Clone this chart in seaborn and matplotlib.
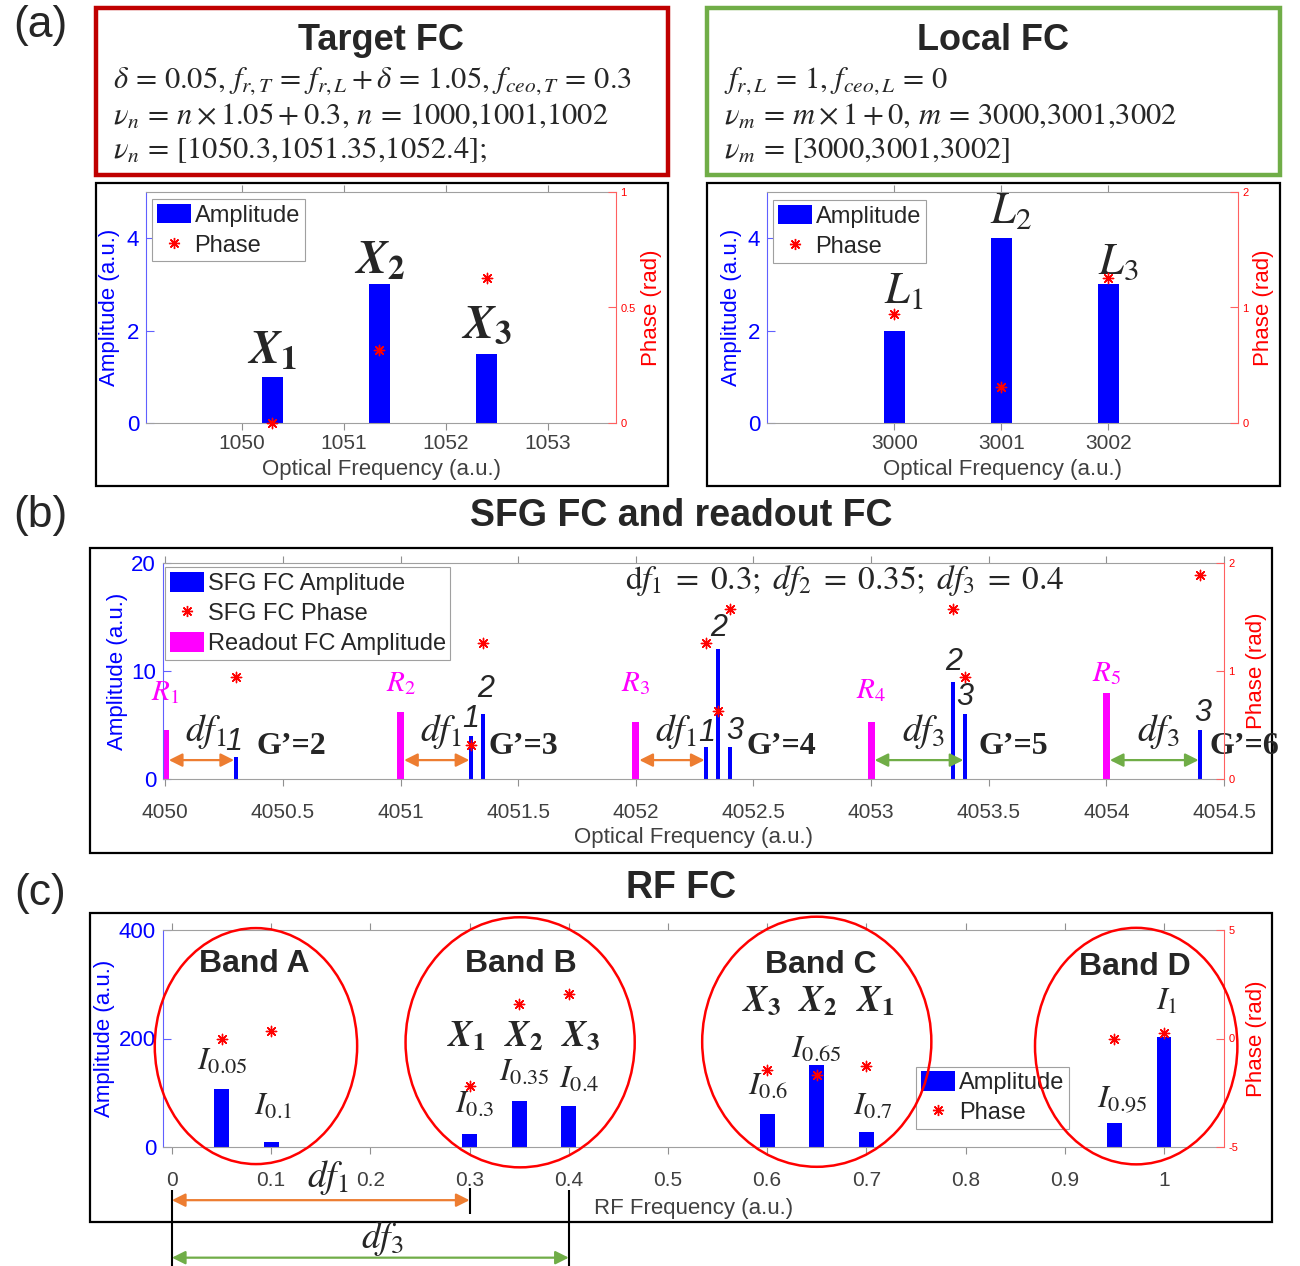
import numpy as np
import pandas as pd
import matplotlib
matplotlib.use("Agg")
import matplotlib.pyplot as plt
import seaborn as sns
from matplotlib.patches import Rectangle, Ellipse, Patch
from matplotlib.lines import Line2D

# ------------------------- data -------------------------
# (a) Target FC
target_freq = [1050.3, 1051.35, 1052.4]
target_amp = [1.0, 3.0, 1.5]
target_phase = [0.0, 0.314, 0.628]
target_labels = [r"$\mathbfit{X}_{\mathbf{1}}$", r"$\mathbfit{X}_{\mathbf{2}}$", r"$\mathbfit{X}_{\mathbf{3}}$"]
# (a) Local FC
local_freq = [3000, 3001, 3002]
local_amp = [2.0, 4.0, 3.0]
local_phase = [0.942, 0.314, 1.257]
local_labels = [r"$L_1$", r"$L_2$", r"$L_3$"]
# (b) SFG FC and readout FC
sfg_freq = [4050.3, 4051.3, 4051.35, 4052.3, 4052.35, 4052.4, 4053.35, 4053.4, 4054.4]
sfg_amp = [2, 4, 6, 3, 12, 3, 9, 6, 4.5]
sfg_phase = [0.942, 0.314, 1.257, 1.257, 0.628, 1.571, 1.571, 0.942, 1.885]
sfg_tags = ["1", "1", "2", "1", "2", "3", "2", "3", "3"]
readout_freq = [4050, 4051, 4052, 4053, 4054]
readout_amp = [4.5, 6.2, 5.3, 5.3, 8.0]
readout_labels = [r"$R_1$", r"$R_2$", r"$R_3$", r"$R_4$", r"$R_5$"]
group_labels = ["G’=2", "G’=3", "G’=4", "G’=5", "G’=6"]
df_values = [0.3, 0.35, 0.4]
# (c) RF FC
rf_freq = [0.05, 0.1, 0.3, 0.35, 0.4, 0.6, 0.65, 0.7, 0.95, 1.0]
rf_amp = [107, 9, 24, 84, 75, 60, 151, 28, 45, 202]
rf_phase = [0.0, 0.35, -2.2, 1.6, 2.05, -1.45, -1.7, -1.25, 0.0, 0.25]
rf_labels = [r"$I_{0.05}$", r"$I_{0.1}$", r"$I_{0.3}$", r"$I_{0.35}$", r"$I_{0.4}$",
             r"$I_{0.6}$", r"$I_{0.65}$", r"$I_{0.7}$", r"$I_{0.95}$", r"$I_1$"]
band_names = ["Band A", "Band B", "Band C", "Band D"]

# ------------------------- style -------------------------
sns.set_theme(style="white")
plt.rcParams["font.family"] = ["Liberation Sans", "DejaVu Sans"]
plt.rcParams["mathtext.fontset"] = "stix"
plt.rcParams["axes.unicode_minus"] = False

BLUE, RED, MAG, GRAY = "#0000FF", "#FF0000", "#FF00FF", "#404040"
ORANGE, GREEN = "#ED7D31", "#70AD47"
STAR = (8, 2, 0)

W, H = 1300, 1266
fig = plt.figure(figsize=(W / 100, H / 100), dpi=100)
fig.patch.set_facecolor("white")


def rect(l, t, r, b):
    return [l / W, 1 - b / H, (r - l) / W, (b - t) / H]


def frame(l, t, r, b, color="black", lw=1.6):
    fig.add_artist(Rectangle((l / W, 1 - b / H), (r - l) / W, (b - t) / H,
                             transform=fig.transFigure, fill=False,
                             edgecolor=color, linewidth=lw, zorder=0))


def ftext(x, y, s, **kw):
    fig.text(x / W, 1 - y / H, s, **kw)


def setup(ax, ax2, xlim, ylim, y2lim, xticks, xticklabels, yticks, y2ticks, y2ticklabels,
          xlabel, xpad, xlpad, ylab_x, y2lab_x):
    ax.set_xlim(xlim)
    ax.set_ylim(ylim)
    ax2.set_ylim(y2lim)
    ax.set_xticks(xticks)
    ax.set_xticklabels(xticklabels, fontsize=15, color=GRAY)
    ax.set_yticks(yticks)
    ax.set_yticklabels([f"{v:g}" for v in yticks], fontsize=16, color=BLUE)
    ax2.set_yticks(y2ticks)
    ax2.set_yticklabels(y2ticklabels, fontsize=8, color=RED)
    ax.tick_params(axis="x", direction="out", top=True, bottom=True, length=5,
                   width=0.8, color="#909090", pad=xpad)
    ax.tick_params(axis="y", direction="in", left=True, length=6, width=0.8,
                   color="#6060FF", pad=5)
    ax2.tick_params(axis="y", direction="in", right=True, length=6, width=0.8,
                    color="#FF6060", pad=3)
    for s in ["top", "bottom"]:
        ax.spines[s].set_color("#A0A0A0")
        ax.spines[s].set_linewidth(0.8)
    ax.spines["left"].set_color("#6060FF")
    ax.spines["left"].set_linewidth(0.8)
    ax.spines["right"].set_visible(False)
    for s in ["left", "top", "bottom"]:
        ax2.spines[s].set_visible(False)
    ax2.spines["right"].set_color("#FF6060")
    ax2.spines["right"].set_linewidth(0.8)
    ax.set_xlabel(xlabel, fontsize=16, color=GRAY, labelpad=xlpad)
    ax.set_ylabel("Amplitude (a.u.)", fontsize=16, color=BLUE)
    ax2.set_ylabel("Phase (rad)", fontsize=16, color=RED)
    ax.yaxis.set_label_coords(ylab_x, 0.5)
    ax2.yaxis.set_label_coords(y2lab_x, 0.5)
    ax.grid(False)
    ax2.grid(False)


def legend(ax, anchor, labels, colors):
    handles = []
    for lab, c in zip(labels, colors):
        if c == "star":
            handles.append(Line2D([], [], ls="none", marker=STAR, color=RED,
                                  markersize=8, mew=1.0))
        else:
            handles.append(Patch(facecolor=c, edgecolor="none"))
    leg = ax.legend(handles, labels, loc="upper left", bbox_to_anchor=anchor,
                    fontsize=17, frameon=True, fancybox=False, edgecolor="#A0A0A0",
                    facecolor="white", framealpha=1, borderaxespad=0, borderpad=0.2,
                    labelspacing=0.3, handlelength=1.45, handleheight=0.9,
                    handletextpad=0.15)
    leg.get_frame().set_linewidth(0.8)
    leg.set_zorder(20)
    return leg


def bars(ax, freq, amp, color, width):
    d = pd.DataFrame({"freq": freq, "amp": amp})
    sns.barplot(data=d, x="freq", y="amp", native_scale=True, color=color,
                saturation=1, width=width, errorbar=None, ax=ax, linewidth=0)


def stars(ax, freq, phase, s=55):
    d = pd.DataFrame({"freq": freq, "phase": phase})
    sns.scatterplot(data=d, x="freq", y="phase", ax=ax, color=RED, marker=STAR,
                    s=s, linewidth=1.0, legend=False, zorder=5, clip_on=False)


# ------------------------- top text boxes -------------------------
ftext(40, 25, "(a)", fontsize=32, ha="center", va="center")
ftext(40, 515, "(b)", fontsize=32, ha="center", va="center")
ftext(40, 893, "(c)", fontsize=32, ha="center", va="center")

frame(96, 8, 668, 175, color="#C00000", lw=3.2)
frame(707, 8, 1280, 175, color=GREEN, lw=3.2)
ftext(381, 40, "Target FC", fontsize=26, fontweight="bold", ha="center", va="center")
ftext(993, 40, "Local FC", fontsize=26, fontweight="bold", ha="center", va="center")
mfs = 22
ftext(113, 81, r"$\delta\,=\,0.05,\,f_{r,T}\,=\,f_{r,L}+\delta\,=\,1.05,\,f_{ceo,T}\,=\,0.3$",
      fontsize=mfs, ha="left", va="center")
ftext(113, 116, r"$\nu_n\,=\,n\times 1.05+0.3,\,n\,=\,1000{,}1001{,}1002$",
      fontsize=mfs, ha="left", va="center")
ftext(113, 150, r"$\nu_n\,=\,[1050.3{,}1051.35{,}1052.4];$", fontsize=mfs, ha="left", va="center")
ftext(724, 81, r"$f_{r,L}\,=\,1,\,f_{ceo,L}\,=\,0$", fontsize=mfs, ha="left", va="center")
ftext(724, 116, r"$\nu_m\,=\,m\times 1+0,\,m\,=\,3000{,}3001{,}3002$",
      fontsize=mfs, ha="left", va="center")
ftext(724, 150, r"$\nu_m\,=\,[3000{,}3001{,}3002]$", fontsize=mfs, ha="left", va="center")

# ------------------------- (a) target -------------------------
frame(96, 183, 668, 486)
axT = fig.add_axes(rect(146, 192, 616, 423))
bars(axT, target_freq, target_amp, BLUE, 0.2 / 1.05)
axT2 = axT.twinx()
stars(axT2, target_freq, target_phase)
setup(axT, axT2, (1049.06, 1053.67), (0, 5), (0, 1), [1050, 1051, 1052, 1053],
      ["1050", "1051", "1052", "1053"], [0, 2, 4], [0, 0.5, 1], ["0", "0.5", "1"],
      "Optical Frequency (a.u.)", 3, 4, -0.055, 1.053)
for f, a, lab, dy in zip(target_freq, target_amp, target_labels, [0.55, 0.5, 0.6]):
    axT.text(f, a + dy, lab, fontsize=34, ha="center", va="center", zorder=10)
legend(axT2, (0.013, 0.97), ["Amplitude", "Phase"], [BLUE, "star"])

# ------------------------- (a) local -------------------------
frame(707, 183, 1280, 486)
axL = fig.add_axes(rect(767, 192, 1238, 423))
bars(axL, local_freq, local_amp, BLUE, 0.2)
axL2 = axL.twinx()
stars(axL2, local_freq, local_phase)
setup(axL, axL2, (2998.81, 3003.21), (0, 5), (0, 2), [3000, 3001, 3002],
      ["3000", "3001", "3002"], [0, 2, 4], [0, 1, 2], ["0", "1", "2"],
      "Optical Frequency (a.u.)", 3, 4, -0.053, 1.032)
for f, a, lab, dy in zip(local_freq, local_amp, local_labels, [0.84, 0.57, 0.48]):
    axL.text(f + 0.09, a + dy, lab, fontsize=32, ha="center", va="center", zorder=10)
legend(axL2, (0.013, 0.965), ["Amplitude", "Phase"], [BLUE, "star"])

# ------------------------- (b) SFG -------------------------
ftext(681, 516, "SFG FC and readout FC", fontsize=27, fontweight="bold", ha="center", va="center")
frame(90, 548, 1272, 853)
axB = fig.add_axes(rect(163, 563, 1224, 779))
bars(axB, readout_freq, readout_amp, MAG, 0.03)
bars(axB, sfg_freq, sfg_amp, BLUE, 0.34)
axB2 = axB.twinx()
stars(axB2, sfg_freq, sfg_phase)
btick = [4050, 4050.5, 4051, 4051.5, 4052, 4052.5, 4053, 4053.5, 4054, 4054.5]
setup(axB, axB2, (4049.99, 4054.5), (0, 20), (0, 2), btick, [f"{v:g}" for v in btick],
      [0, 10, 20], [0, 1, 2], ["0", "1", "2"], "Optical Frequency (a.u.)", 12, 4,
      -0.033, 1.021)
# readout labels
for f, a, lab, dy in zip(readout_freq, readout_amp, readout_labels, [3.5, 2.7, 3.6, 2.9, 1.8]):
    axB.text(f, a + dy, lab, fontsize=21, color=MAG, ha="center", va="center", zorder=10)
# SFG tags
tag_pos = [(4050.29, 3.4), (4051.30, 5.6), (4051.36, 8.3), (4052.30, 4.3), (4052.35, 14.0),
           (4052.42, 4.4), (4053.35, 10.8), (4053.40, 7.6), (4054.41, 6.1)]
for (x, y), t in zip(tag_pos, sfg_tags):
    axB.text(x, y, t, fontsize=22, fontstyle="italic", ha="center", va="center", zorder=10)
# G' labels
g_x = [4050.534, 4051.52, 4052.617, 4053.605, 4054.585]
for x, g in zip(g_x, group_labels):
    axB.text(x, 3.05, g, fontsize=23, fontweight="bold", family="Liberation Serif",
             ha="center", va="center", zorder=10, clip_on=False)
# df arrows
arrow_spec = [(0, df_values[0], ORANGE, r"$df_1$"), (1, df_values[0], ORANGE, r"$df_1$"),
              (2, df_values[0], ORANGE, r"$df_1$"), (3, df_values[2], GREEN, r"$df_3$"),
              (4, df_values[2], GREEN, r"$df_3$")]
for k, d, c, lab in arrow_spec:
    x0 = readout_freq[k]
    axB.annotate("", xy=(x0 + d - 0.008, 1.75), xytext=(x0 + 0.015, 1.75),
                 arrowprops=dict(arrowstyle="<|-|>", color=c, lw=1.6, mutation_scale=20,
                                 shrinkA=0, shrinkB=0), zorder=9)
    axB.text(x0 + d / 2 + 0.02, 4.4, lab, fontsize=27, ha="center", va="center", zorder=10)
axB.text(4052.89, 18.4, r"$\mathrm{d}f_1\;=\;0.3;\;df_2\;=\;0.35;\;df_3\;=\;0.4$",
         fontsize=24, ha="center", va="center", zorder=10)
legend(axB2, (0.002, 0.98), ["SFG FC Amplitude", "SFG FC Phase", "Readout FC Amplitude"],
       [BLUE, "star", MAG])

# ------------------------- (c) RF -------------------------
ftext(681, 888, "RF FC", fontsize=27, fontweight="bold", ha="center", va="center")
frame(90, 913, 1272, 1222)
axC = fig.add_axes(rect(163, 930, 1224, 1147))
bars(axC, rf_freq, rf_amp, BLUE, 0.3)
axC2 = axC.twinx()
stars(axC2, rf_freq, rf_phase)
ctick = [round(0.1 * i, 1) for i in range(11)]
setup(axC, axC2, (-0.009, 1.0605), (0, 400), (-5, 5), ctick, [f"{v:g}" for v in ctick],
      [0, 200, 400], [-5, 0, 5], ["-5", "0", "5"], "RF Frequency (a.u.)", 12, 6,
      -0.045, 1.021)
# ellipses (drawn on the twin axes above the legend, in amplitude data coordinates)
ell = [(0.0847, 186, 0.204, 435), (0.351, 193, 0.231, 461), (0.650, 194, 0.231, 461),
       (0.972, 186, 0.204, 436)]
band_pos = [(0.083, 337), (0.352, 337), (0.654, 335), (0.971, 332)]
for (cx, cy, w, h), (bx, by), name in zip(ell, band_pos, band_names):
    axC2.add_patch(Ellipse((cx, cy), w, h, fill=False, edgecolor=RED, lw=1.8,
                           transform=axC.transData, clip_on=False, zorder=25))
    axC.text(bx, by, name, fontsize=23, fontweight="bold", ha="center", va="center", zorder=10)
# X labels in bands B and C
for x, lab in zip([0.297, 0.355, 0.412], target_labels):
    axC.text(x, 204, lab, fontsize=26, ha="center", va="center", zorder=10)
for x, lab in zip([0.594, 0.651, 0.709], target_labels[::-1]):
    axC.text(x, 267, lab, fontsize=26, ha="center", va="center", zorder=10)
# I labels
ipos = [(0.051, 157), (0.102, 74), (0.305, 78), (0.355, 137), (0.411, 124),
        (0.601, 111), (0.650, 180), (0.707, 74), (0.958, 87), (1.003, 267)]
for (x, y), lab in zip(ipos, rf_labels):
    axC.text(x, y, lab, fontsize=23, ha="center", va="center", zorder=10)
legend(axC2, (0.71, 0.37), ["Amplitude", "Phase"], [BLUE, "star"])

# df arrows under the RF axis
axC.annotate("", xy=(df_values[0], -98), xytext=(0, -98),
             arrowprops=dict(arrowstyle="<|-|>", color=ORANGE, lw=1.6, mutation_scale=20,
                             shrinkA=0, shrinkB=0), annotation_clip=False)
axC.annotate("", xy=(df_values[2], -204), xytext=(0, -204),
             arrowprops=dict(arrowstyle="<|-|>", color=GREEN, lw=1.6, mutation_scale=20,
                             shrinkA=0, shrinkB=0), annotation_clip=False)
axC.vlines([0, df_values[2]], -79, -225, color="black", lw=1.5, clip_on=False)
axC.vlines([df_values[0]], -76, -124, color="black", lw=1.5, clip_on=False)
axC.text(0.157, -57, r"$df_1$", fontsize=27, ha="center", va="center", clip_on=False)
axC.text(0.212, -169, r"$df_3$", fontsize=27, ha="center", va="center", clip_on=False)

fig.savefig("out.png", dpi=100, facecolor="white")
